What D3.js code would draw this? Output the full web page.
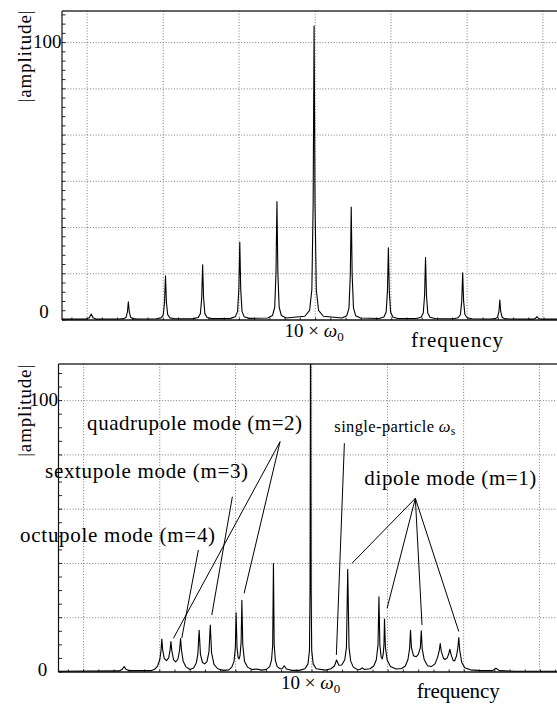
<!DOCTYPE html>
<html>
<head>
<meta charset="utf-8">
<script src="https://cdn.jsdelivr.net/npm/d3@7"></script>
<style>
body { margin: 0; background: #fff; }
svg { display: block; font-family: "Liberation Serif", "DejaVu Serif", serif; }
</style>
</head>
<body>
<div class="canvas"></div>
<script>
// frequency in units of omega_0, amplitude in arbitrary units
const gridFreq = [3.89, 5.94, 7.98, 10.03, 12.07, 14.12, 16.16];
const topGridAmp = [16.67, 33.33, 50, 66.67, 83.33, 100];
const bottomGridAmp = [20, 40, 60, 80, 100];
const yTickLabels = ['0', '100'];

// upper spectrum: coherent revolution harmonics only
const topTrace = [
    [3.21, 0.3], [3.85, 0.3], [3.95, 0.8], [4, 2.2], [4.05, 0.8], [4.15, 0.3],
    [4.75, 0.35], [4.88, 0.5], [4.94, 1.0], [4.975, 2.9], [5, 6.6], [5.025, 2.9], [5.06, 1.0], [5.12, 0.5], [5.25, 0.35],
    [5.75, 0.46], [5.88, 0.78], [5.94, 1.9], [5.975, 6.4], [6, 15.9], [6.025, 6.4], [6.06, 1.9], [6.12, 0.78], [6.25, 0.46],
    [6.75, 0.5], [6.88, 0.9], [6.94, 2.3], [6.975, 8], [7, 19.9], [7.025, 8], [7.06, 2.3], [7.12, 0.9], [7.25, 0.5],
    [7.75, 0.58], [7.88, 1.14], [7.94, 3.1], [7.975, 11.2], [8, 28], [8.025, 11.2], [8.06, 3.1], [8.12, 1.14], [8.25, 0.58],
    [8.75, 0.73], [8.88, 1.58], [8.94, 4.6], [8.975, 17], [9, 42.7], [9.025, 17], [9.06, 4.6], [9.12, 1.58], [9.25, 0.73],
    [9.75, 1.36], [9.88, 3.5], [9.94, 10.9], [9.975, 42], [10, 106], [10.025, 42], [10.06, 10.9], [10.12, 3.5], [10.25, 1.36],
    [10.75, 0.71], [10.88, 1.5], [10.94, 4.4], [10.975, 16.3], [11, 40.7], [11.025, 16.3], [11.06, 4.4], [11.12, 1.5], [11.25, 0.71],
    [11.75, 0.56], [11.88, 1.08], [11.94, 2.9], [11.975, 10.4], [12, 26], [12.025, 10.4], [12.06, 2.9], [12.12, 1.08], [12.25, 0.56],
    [12.75, 0.53], [12.88, 0.98], [12.94, 2.55], [12.975, 9], [13, 22.5], [13.025, 9], [13.06, 2.55], [13.12, 0.98], [13.25, 0.53],
    [13.75, 0.47], [13.88, 0.81], [13.94, 2.0], [13.975, 6.8], [14, 17], [14.025, 6.8], [14.06, 2.0], [14.12, 0.81], [14.25, 0.47],
    [14.75, 0.35], [14.88, 0.5], [14.94, 1.0], [14.975, 3.0], [15, 7.2], [15.025, 3.0], [15.06, 1.0], [15.12, 0.5], [15.25, 0.35],
    [15.9, 0.3], [15.96, 0.6], [16, 1.2], [16.04, 0.6], [16.1, 0.3], [16.62, 0.3]
];

// lower spectrum: harmonics split into synchrotron side bands
const bottomTrace = [
    [3.21, 0.3], [4.85, 0.4], [4.93, 1.0], [4.98, 2.0], [5.03, 1.0], [5.12, 0.5],
    [5.7, 0.5], [5.8, 1.0], [5.88, 2.2], [5.94, 4.5], [5.975, 8], [5.995, 12.1], [6.02, 8], [6.06, 5], [6.12, 4.2],
    [6.18, 5.2], [6.215, 7.8], [6.24, 11.2], [6.265, 7.8], [6.31, 4.6], [6.37, 3.7],
    [6.43, 4.8], [6.475, 8.2], [6.5, 12.3], [6.525, 8], [6.57, 4], [6.64, 2], [6.75, 0.9],
    [6.85, 1.5], [6.92, 3.2], [6.965, 6.5], [7, 15.4], [7.035, 6.5], [7.09, 3.5], [7.15, 3.0],
    [7.21, 3.8], [7.265, 7.5], [7.3, 17.3], [7.335, 7], [7.4, 2.8], [7.5, 1.2], [7.65, 0.6], [7.8, 0.8],
    [7.88, 1.8], [7.94, 4], [7.975, 9], [7.995, 21.8], [8.02, 9], [8.05, 5.2], [8.075, 4.8],
    [8.1, 6], [8.13, 11], [8.15, 26.4], [8.175, 10], [8.22, 4], [8.3, 1.8], [8.42, 0.9], [8.55, 1.1], [8.68, 0.7],
    [8.8, 0.9], [8.9, 2], [8.95, 4.5], [8.98, 10], [9, 40], [9.02, 10], [9.05, 4.5], [9.1, 2], [9.18, 1.2],
    [9.24, 1.3], [9.29, 2.3], [9.35, 1.1], [9.5, 0.6], [9.7, 0.6],
    [9.85, 1.2], [9.93, 3], [9.97, 8], [9.985, 30], [10, 140], [10.015, 30], [10.03, 8], [10.07, 3], [10.15, 1.2],
    [10.4, 0.7], [10.55, 1.2], [10.64, 2.2], [10.7, 4.4], [10.76, 2.5], [10.84, 2.6],
    [10.92, 4.5], [10.965, 9], [11, 37.8], [11.035, 9], [11.08, 4], [11.15, 1.8], [11.25, 1.0],
    [11.33, 0.9], [11.39, 1.5], [11.45, 0.9], [11.6, 1.2],
    [11.7, 2.2], [11.77, 4.5], [11.815, 10], [11.84, 27.7], [11.865, 10], [11.9, 5.5], [11.93, 4.8],
    [11.955, 6.5], [11.975, 10], [11.99, 19.5], [12.015, 9], [12.06, 4.5], [12.15, 2], [12.3, 1.1], [12.45, 1.3],
    [12.55, 2.2], [12.62, 4.5], [12.665, 8.5], [12.69, 15.4], [12.715, 9], [12.77, 6], [12.84, 5.6],
    [12.9, 6.5], [12.955, 9], [12.98, 15.2], [13.005, 8.5], [13.06, 4.5], [13.15, 2.3], [13.25, 2],
    [13.35, 3], [13.42, 5.5], [13.465, 8], [13.49, 10.5], [13.52, 7.5], [13.58, 5], [13.62, 4.6],
    [13.68, 5.2], [13.725, 7], [13.75, 8.4], [13.78, 6.5], [13.84, 4.2], [13.88, 4.2],
    [13.93, 6], [13.965, 9], [13.99, 12.7], [14.015, 8], [14.07, 3.5], [14.15, 1.6], [14.3, 0.8], [14.6, 0.5],
    [14.9, 0.5], [14.99, 1.4], [15.08, 0.5], [15.5, 0.3], [16.62, 0.3]
];

// mode labels in the lower panel and the peaks each one points at
const modeLabels = ['quadrupole mode (m=2)', 'sextupole mode (m=3)', 'octupole mode (m=4)', 'single-particle', 'dipole mode (m=1)'];
const modeTargets = [
    [[6.307, 12.4], [8.21, 29.0]],
    [[7.34, 21.0]],
    [[6.533, 12.5]],
    [[10.694, 6.3]],
    [[11.117, 40.1], [12.06, 23.5], [13.0, 17.3], [13.99, 14.9]]
];

// where the labels and the line hubs sit (bottom panel data coords)
const labelLayout = [
    { at: [3.984, 89.2], hub: [9.179, 84.9], width: 215, size: 21 },
    { at: [2.853, 71.6], hub: [7.895, 64.6], width: 203, size: 21 },
    { at: [2.18, 48.0], hub: [6.98, 45.0], width: 195, size: 21 },
    { at: [10.64, 88.4], hub: [10.91, 84.3], width: 121, size: 16.5, omega: 's' },
    { at: [11.448, 68.9], hub: [12.82, 64.0], width: 172, size: 21 }
];

const W = 557, H = 708;
const svg = d3.select('.canvas')
    .append('svg')
    .attr('width', W)
    .attr('height', H);

svg.append('rect').attr('width', W).attr('height', H).attr('fill', '#fff');

const panels = [
    { trace: topTrace, gridAmp: topGridAmp, minorStep: 100 / 30, left: 62, top: 11, base: 320, yMax: 111.4,
      labelY: 56.5, zeroX: 44, zeroDy: -2, hundredDy: 5, freqX: 411, freqDy: 26.7, freqLen: 92 },
    { trace: bottomTrace, gridAmp: bottomGridAmp, minorStep: 5, left: 58.5, top: 364, base: 672, yMax: 113.5,
      labelY: 410.8, zeroX: 42.5, zeroDy: 4, hundredDy: 5, freqX: 416.7, freqDy: 26.3, freqLen: 83 }
];

const plotWidth = 498;
const domainF = [3.214, 16.62];

panels.forEach((p, i) => {
    const x = d3.scaleLinear().domain(domainF).range([p.left, p.left + plotWidth]);
    const y = d3.scaleLinear().domain([0, p.yMax]).range([p.base, p.top]);
    p.x = x; p.y = y;

    const g = svg.append('g');

    // clip for the trace
    const clipId = 'clip' + i;
    svg.append('clipPath').attr('id', clipId)
        .append('rect')
        .attr('x', p.left).attr('y', p.top)
        .attr('width', plotWidth + 5).attr('height', p.base - p.top);

    // dotted grid
    g.selectAll('.vgrid').data(gridFreq).enter()
        .append('line')
        .attr('x1', d => x(d)).attr('x2', d => x(d))
        .attr('y1', p.top).attr('y2', p.base)
        .attr('stroke', '#444').attr('stroke-width', 0.7)
        .attr('stroke-dasharray', '1,1.8');

    g.selectAll('.hgrid').data(p.gridAmp).enter()
        .append('line')
        .attr('x1', p.left).attr('x2', W + 5)
        .attr('y1', d => y(d)).attr('y2', d => y(d))
        .attr('stroke', '#444').attr('stroke-width', 0.7)
        .attr('stroke-dasharray', '1,1.8');

    // frame: left axis, bottom axis, top edge
    g.append('line')
        .attr('x1', p.left).attr('x2', p.left)
        .attr('y1', p.top).attr('y2', p.base)
        .attr('stroke', '#111').attr('stroke-width', 1.2);
    g.append('line')
        .attr('x1', p.left).attr('x2', W + 5)
        .attr('y1', p.base).attr('y2', p.base)
        .attr('stroke', '#111').attr('stroke-width', 1.3);
    g.append('line')
        .attr('x1', p.left).attr('x2', W + 5)
        .attr('y1', p.top).attr('y2', p.top)
        .attr('stroke', '#333').attr('stroke-width', 1.4);

    // small inward ticks on the amplitude axis
    const yMinor = d3.range(0, p.yMax, p.minorStep);
    g.selectAll('.ytick').data(yMinor).enter()
        .append('line')
        .attr('x1', p.left).attr('x2', p.left + 3.5)
        .attr('y1', d => y(d)).attr('y2', d => y(d))
        .attr('stroke', '#111').attr('stroke-width', 0.9);

    // small inward ticks on the frequency axis
    const fStep = (gridFreq[1] - gridFreq[0]) / 5;
    const xMinor = d3.range(gridFreq[0] - fStep, domainF[1], fStep);
    g.selectAll('.xtick').data(xMinor).enter()
        .append('line')
        .attr('x1', d => x(d)).attr('x2', d => x(d))
        .attr('y1', p.base).attr('y2', p.base - 2.5)
        .attr('stroke', '#111').attr('stroke-width', 0.9);

    // spectrum trace
    const line = d3.line()
        .x(d => x(d[0]))
        .y(d => y(d[1]));

    g.append('path')
        .datum(p.trace)
        .attr('clip-path', `url(#${clipId})`)
        .attr('fill', 'none')
        .attr('stroke', '#000')
        .attr('stroke-width', 1.1)
        .attr('stroke-linejoin', 'round')
        .attr('d', line);

    // tick labels
    g.append('text')
        .attr('x', p.zeroX).attr('y', y(0) + p.zeroDy)
        .attr('text-anchor', 'middle')
        .attr('font-size', 19)
        .text(yTickLabels[0]);
    g.append('text')
        .attr('x', p.left - 0.5).attr('y', y(100) + p.hundredDy)
        .attr('text-anchor', 'end')
        .attr('font-size', 19)
        .text(yTickLabels[1]);

    // axis title
    g.append('text')
        .attr('transform', `translate(31, ${p.labelY}) rotate(-90)`)
        .attr('text-anchor', 'middle')
        .attr('font-size', 19)
        .attr('textLength', 92)
        .text('|amplitude|');

    // 10 x omega_0 under the central harmonic
    const om = g.append('text')
        .attr('x', x(10)).attr('y', p.base + 17.3)
        .attr('text-anchor', 'middle')
        .attr('font-size', 19);
    om.append('tspan').text('10 \u00d7 ');
    om.append('tspan').attr('font-style', 'italic').text('\u03c9');
    om.append('tspan').attr('font-size', 13).attr('dy', 4).text('0');

    g.append('text')
        .attr('x', p.freqX).attr('y', p.base + p.freqDy)
        .attr('font-size', 21)
        .attr('textLength', p.freqLen)
        .text('frequency');
});

// annotations on the lower panel
const pb = panels[1];
const ann = svg.append('g');

labelLayout.forEach((L, i) => {
    const t = ann.append('text')
        .attr('x', pb.x(L.at[0]))
        .attr('y', pb.y(L.at[1]))
        .attr('font-size', L.size)
        .attr('textLength', L.width)
        .attr('lengthAdjust', 'spacing');
    t.append('tspan').text(modeLabels[i]);
    if (L.omega) {
        t.append('tspan').text(' ');
        t.append('tspan').attr('font-style', 'italic').text('\u03c9');
        t.append('tspan').attr('font-size', L.size * 0.7).attr('dy', 3).text(L.omega);
    }

    ann.selectAll(null).data(modeTargets[i]).enter()
        .append('line')
        .attr('x1', pb.x(L.hub[0])).attr('y1', pb.y(L.hub[1]))
        .attr('x2', d => pb.x(d[0])).attr('y2', d => pb.y(d[1]))
        .attr('stroke', '#000')
        .attr('stroke-width', 1);
});
</script>
</body>
</html>
